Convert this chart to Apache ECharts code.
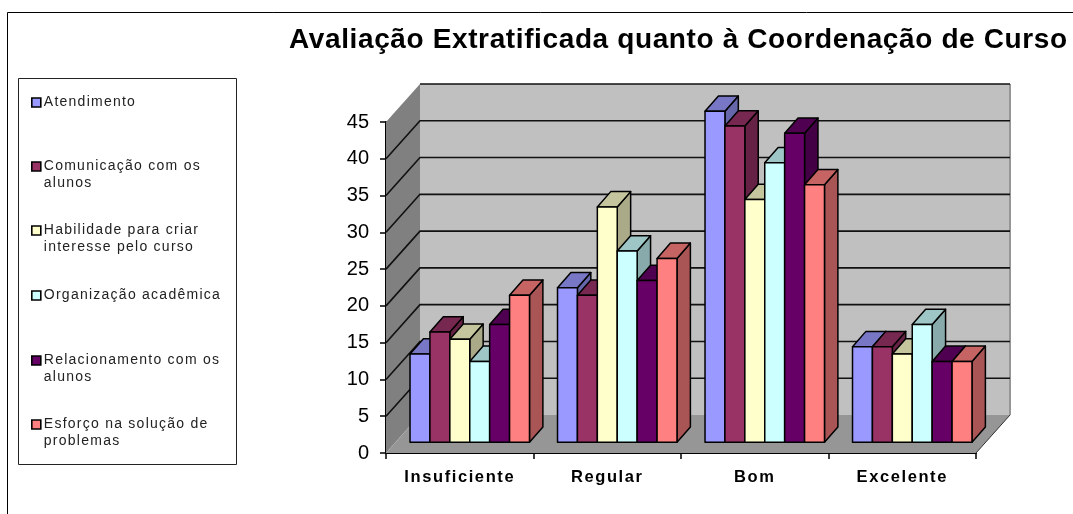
<!DOCTYPE html>
<html><head><meta charset="utf-8">
<style>html,body{margin:0;padding:0;background:#fff}#c{width:1073px;height:514px}</style>
<script src="https://cdn.jsdelivr.net/npm/echarts@6/dist/echarts.min.js"></script>
</head><body><div id="c"></div>
<script>
const categories = ['Insuficiente','Regular','Bom','Excelente'];
const atendimento = [12,21,45,13];
const comunicacao = [15,20,43,13];
const habilidade = [14,32,33,12];
const organizacao = [11,26,38,16];
const relacionamento = [16,22,42,11];
const esforco = [20,25,35,11];
const seriesNames = ['Atendimento','Comunicação com os\nalunos','Habilidade para criar\ninteresse pelo curso','Organização acadêmica','Relacionamento com os\nalunos','Esforço na solução de\nproblemas'];
const seriesValues = [atendimento,comunicacao,habilidade,organizacao,relacionamento,esforco];
const yTicks = [5,10,15,20,25,30,35,40,45];

const frontColors = ['#9999FF','#993366','#FFFFCC','#CCFFFF','#660066','#FF8080'];
const topColors = ['#7777C6','#772850','#C6C69E','#9EC6C6','#500050','#C66464'];
const sideColors = ['#6666AA','#662244','#AAAA88','#88AAAA','#440044','#AA5555'];
const legendTops = [94,141,205,287,335,399];
const DEPTH_X = 34, DEPTH_Y = 38;           // wall depth in pixels
const PLANE_X = 10, PLANE_Y = 10.7;         // bar plane offset
const BAR_X = 13.4, BAR_Y = 15.3;           // bar depth
const BAR_FRAC = 0.135;

// The reference's text is spaced wider than the font: add tracking per font size.
const tracking = {'28':0.62,'14':1.25,'16.5':1.6,'20':0};
(function(){
  const d = Object.getOwnPropertyDescriptor(CanvasRenderingContext2D.prototype,'font');
  Object.defineProperty(CanvasRenderingContext2D.prototype,'font',{
    configurable:true,get(){return d.get.call(this);},
    set(v){ d.set.call(this,v);
      const m=/([\d.]+)px/.exec(v); const t=m&&tracking[m[1]];
      this.letterSpacing=(t||0)+'px'; }
  });
})();

function wallItem(params, api){
  const g = params.coordSys;
  const x0=g.x, x1=g.x+g.width, y0=g.y+g.height, yT=g.y;
  const dx=DEPTH_X, dy=DEPTH_Y;
  return {type:'group',children:[
    {type:'polygon',shape:{points:[[x0+dx,yT-dy],[x1+dx,yT-dy],[x1+dx,y0-dy],[x0+dx,y0-dy]]},style:{fill:'#C0C0C0'}},
    {type:'polygon',shape:{points:[[x0,yT],[x0+dx,yT-dy],[x0+dx,y0-dy],[x0,y0]]},style:{fill:'#808080'}},
    {type:'polygon',shape:{points:[[x0,y0],[x0+dx,y0-dy],[x1+dx,y0-dy],[x1,y0]]},style:{fill:'#969696'}},
    {type:'line',shape:{x1:x1,y1:y0,x2:x1+dx,y2:y0-dy},style:{stroke:'#333',lineWidth:1}},
    {type:'line',shape:{x1:x1+dx,y1:yT-dy,x2:x1+dx,y2:y0-dy},style:{stroke:'#969696',lineWidth:2}},
    {type:'line',shape:{x1:x0,y1:y0,x2:x0+dx,y2:y0-dy},style:{stroke:'#aaa',lineWidth:1,lineDash:[2,2]}}
  ]};
}
function gridItem(params, api){
  const g = params.coordSys;
  const v = api.value(0);
  const y = api.coord([0,v])[1];
  const x0=g.x, x1=g.x+g.width;
  const pts = v===45 ? [[x0+DEPTH_X,y-DEPTH_Y],[x1+DEPTH_X,y-DEPTH_Y]]
                     : [[x0,y],[x0+DEPTH_X,y-DEPTH_Y],[x1+DEPTH_X,y-DEPTH_Y]];
  return {type:'polyline',shape:{points:pts},style:{stroke:'#111',lineWidth:1.6,fill:null}};
}
function barRenderer(s){
  return function(params, api){
    const c = api.value(0), v = api.value(1);
    const top = api.coord([c,v]), base = api.coord([c,0]);
    const w = api.size([1,0])[0]*BAR_FRAC;
    const xl = top[0]+PLANE_X+(s-3)*w, xr = xl+w;
    const yt = top[1]-PLANE_Y, yb = base[1]-PLANE_Y;
    const st = {stroke:'#000',lineWidth:1.5,lineJoin:'round'};
    return {type:'group',children:[
      {type:'polygon',shape:{points:[[xr,yt],[xr+BAR_X,yt-BAR_Y],[xr+BAR_X,yb-BAR_Y],[xr,yb]]},style:Object.assign({fill:sideColors[s]},st)},
      {type:'polygon',shape:{points:[[xl,yt],[xl+BAR_X,yt-BAR_Y],[xr+BAR_X,yt-BAR_Y],[xr,yt]]},style:Object.assign({fill:topColors[s]},st)},
      {type:'polygon',shape:{points:[[xl,yt],[xr,yt],[xr,yb],[xl,yb]]},style:Object.assign({fill:frontColors[s]},st)}
    ]};
  };
}
const font='"Liberation Sans", Arial, sans-serif';
const series=[
  {type:'custom',name:'walls',silent:true,z:1,clip:false,renderItem:wallItem,data:[[0]],encode:{x:0},tooltip:{show:false}},
  {type:'custom',name:'grid',silent:true,z:2,clip:false,renderItem:gridItem,data:yTicks.map(v=>[v]),tooltip:{show:false}}
];
seriesNames.forEach((n,s)=>{
  series.push({type:'custom',name:n,z:3+s,clip:false,renderItem:barRenderer(s),
    itemStyle:{color:frontColors[s]},encode:{x:0,y:1},
    data:categories.map((_,i)=>[i,seriesValues[s][i]])});
});
const legends=seriesNames.map((n,s)=>({
  data:[n],left:31,top:legendTops[s],orient:'vertical',icon:'rect',itemWidth:9,itemHeight:9,itemGap:0,padding:0,
  selectedMode:false,
  formatter:nm=>nm.includes('\n')?'\n'+nm:nm,
  itemStyle:{borderColor:'#000',borderWidth:1.6},
  textStyle:{fontFamily:font,fontSize:14,color:'#222',lineHeight:17,padding:[0,0,0,-2]}
}));
const chart=echarts.init(document.getElementById('c'),null,{renderer:'canvas'});
chart.setOption({
  animation:false,backgroundColor:'#fff',
  title:{text:'Avaliação Extratificada quanto à Coordenação de Curso',left:289,top:26,padding:0,
    textStyle:{fontFamily:font,fontSize:28,fontWeight:'bold',color:'#000'}},
  legend:legends,
  grid:{left:386,top:122,width:590,height:331,containLabel:false},
  xAxis:{type:'category',data:categories,boundaryGap:true,
    axisLine:{lineStyle:{color:'#000',width:2}},axisTick:{show:true,length:6,alignWithLabel:false,lineStyle:{color:'#000',width:1.5},interval:0},
    axisLabel:{fontFamily:font,fontSize:16.5,fontWeight:'bold',color:'#000',margin:15,interval:0},splitLine:{show:false}},
  yAxis:{type:'value',min:0,max:45,interval:5,
    axisLine:{show:true,lineStyle:{color:'#000',width:2}},axisTick:{show:true,length:6,lineStyle:{color:'#000',width:1.5}},
    axisLabel:{fontFamily:font,fontSize:20,color:'#000',margin:17},splitLine:{show:false}},
  graphic:[
    {type:'line',silent:true,z:0,shape:{x1:7.5,y1:12.5,x2:1073,y2:12.5},style:{stroke:'#000',lineWidth:1}},
    {type:'line',silent:true,z:0,shape:{x1:7.5,y1:12.5,x2:7.5,y2:514},style:{stroke:'#000',lineWidth:1}},
    {type:'rect',silent:true,z:-1,shape:{x:18.5,y:78.5,width:218,height:386},style:{fill:'#fff',stroke:'#222',lineWidth:1}}
  ],
  series
});
</script></body></html>
